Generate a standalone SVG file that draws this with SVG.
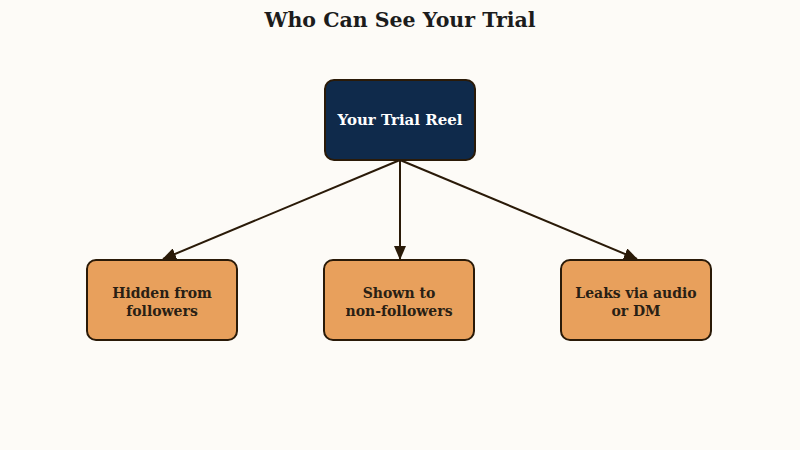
<svg xmlns="http://www.w3.org/2000/svg" width="800" height="450" viewBox="0 0 800 450">
<defs>
<style>
.bg{fill:#fdfbf7}
.title{font-family:"DejaVu Serif","Liberation Serif",serif;font-weight:bold;font-size:20.5px;fill:#1c1c1c;text-anchor:middle}
.lbl{font-family:"DejaVu Serif","Liberation Serif",serif;font-weight:bold;font-size:14px;text-anchor:middle}
.big{font-size:15px}
.top{fill:#0f2a4b;stroke:#2a1a08;stroke-width:2}
.leaf{fill:#e8a05c;stroke:#2a1a08;stroke-width:2}
.edge{stroke:#2a1a08;stroke-width:2;fill:none}
</style>
<marker id="ah" markerWidth="14" markerHeight="12" refX="13" refY="6" orient="auto" markerUnits="userSpaceOnUse" viewBox="0 0 14 12">
<path d="M0,0 L14,6 L0,12 z" fill="#2a1a08"/>
</marker>
</defs>
<rect class="bg" x="0" y="0" width="800" height="450"/>
<text class="title" x="400" y="27">Who Can See Your Trial</text>
<g id="connectors">
<line class="edge" x1="400" y1="160" x2="163" y2="259" marker-end="url(#ah)"/>
<line class="edge" x1="400" y1="160" x2="400" y2="259" marker-end="url(#ah)"/>
<line class="edge" x1="400" y1="160" x2="637" y2="259" marker-end="url(#ah)"/>
</g>
<g id="trial-reel">
<rect class="top" x="325" y="80" width="150" height="80" rx="9"/>
<text class="lbl big" x="400" y="125" fill="#ffffff">Your Trial Reel</text>
</g>
<g id="hidden">
<rect class="leaf" x="87" y="260" width="150" height="80" rx="9"/>
<text class="lbl" x="162" y="298" fill="#2a1f14">Hidden from</text>
<text class="lbl" x="162" y="316" fill="#2a1f14">followers</text>
</g>
<g id="shown">
<rect class="leaf" x="324" y="260" width="150" height="80" rx="9"/>
<text class="lbl" x="399" y="298" fill="#2a1f14">Shown to</text>
<text class="lbl" x="399" y="316" fill="#2a1f14">non-followers</text>
</g>
<g id="leaks">
<rect class="leaf" x="561" y="260" width="150" height="80" rx="9"/>
<text class="lbl" x="636" y="298" fill="#2a1f14">Leaks via audio</text>
<text class="lbl" x="636" y="316" fill="#2a1f14">or DM</text>
</g>
</svg>
